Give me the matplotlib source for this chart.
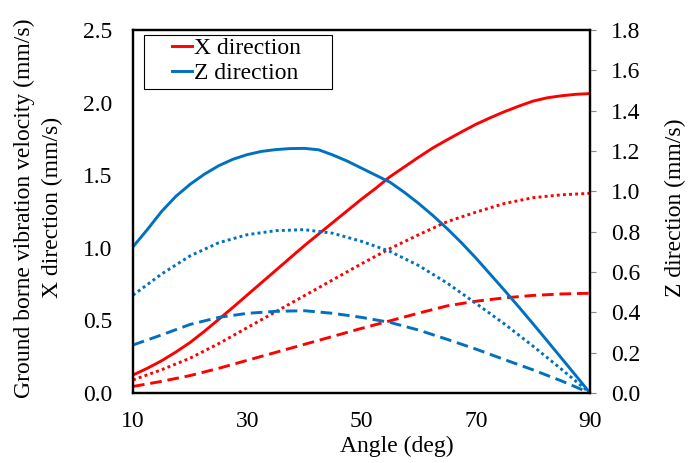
import numpy as np
import matplotlib
matplotlib.use("Agg")
import matplotlib.pyplot as plt
from matplotlib.patches import Rectangle

plt.rcParams["font.family"] = ["Liberation Serif", "DejaVu Serif"]
plt.rcParams["font.size"] = 17

# angle (deg): solid lines read every 2.5 deg, dotted/dashed every 5 deg
angle_fine = [10, 12.5, 15, 17.5, 20, 22.5, 25, 27.5, 30, 32.5, 35, 37.5, 40, 42.5, 45, 47.5,
              50, 52.5, 55, 57.5, 60, 62.5, 65, 67.5, 70, 72.5, 75, 77.5, 80, 82.5, 85, 87.5, 90]
angle = [10, 15, 20, 25, 30, 35, 40, 45, 50, 55, 60, 65, 70, 75, 80, 85, 90]

# X direction (left axis, mm/s)
x_solid = [0.124, 0.17, 0.222, 0.282, 0.348, 0.425, 0.507, 0.59, 0.675, 0.76, 0.845, 0.93, 1.015, 1.095,
           1.175, 1.255, 1.335, 1.41, 1.49, 1.557, 1.624, 1.688, 1.744, 1.798, 1.85, 1.895, 1.937,
           1.975, 2.01, 2.033, 2.047, 2.057, 2.062]
x_dotted = [0.09, 0.16, 0.24, 0.34, 0.45, 0.56, 0.67, 0.78, 0.89, 0.995, 1.09, 1.18, 1.245, 1.305, 1.345, 1.365, 1.375]
x_dashed = [0.045, 0.08, 0.12, 0.17, 0.225, 0.28, 0.335, 0.39, 0.445, 0.497, 0.55, 0.60, 0.632, 0.655, 0.672, 0.682, 0.687]

# Z direction (right axis, mm/s)
z_solid = [0.725, 0.81, 0.90, 0.975, 1.035, 1.085, 1.127, 1.159, 1.182, 1.198, 1.207, 1.212, 1.213, 1.206,
           1.18, 1.15, 1.115, 1.08, 1.045, 0.995, 0.94, 0.88, 0.815, 0.745, 0.67, 0.59, 0.51,
           0.428, 0.344, 0.259, 0.173, 0.087, 0.0]
z_dotted = [0.485, 0.59, 0.68, 0.745, 0.785, 0.805, 0.81, 0.792, 0.752, 0.702, 0.632, 0.545, 0.445, 0.343, 0.233, 0.118, 0.0]
z_dashed = [0.238, 0.288, 0.34, 0.375, 0.395, 0.405, 0.408, 0.395, 0.375, 0.35, 0.312, 0.266, 0.218, 0.166, 0.115, 0.06, 0.0]

RED = "#FF0000"
BLUE = "#0070C0"
LW = 2.1
DOT = (0, (1, 1.1))
DASH = (0, (4, 2))

fig = plt.figure(figsize=(6.91, 4.63), dpi=100)
ax = fig.add_axes([133/691, 1-393/463, 457/691, 363/463])
ax2 = ax.twinx()

ax.plot(angle_fine, x_solid, color=RED, lw=LW, label="X direction")
ax.plot(angle, x_dotted, color=RED, lw=LW, ls=DOT)
ax.plot(angle, x_dashed, color=RED, lw=LW, ls=DASH)
ax2.plot(angle_fine, z_solid, color=BLUE, lw=LW, label="Z direction")
ax2.plot(angle, z_dotted, color=BLUE, lw=LW, ls=DOT)
ax2.plot(angle, z_dashed, color=BLUE, lw=LW, ls=DASH)

ax.set_xlim(10, 90)
ax.set_xticks([10, 30, 50, 70, 90])
ax.set_ylim(0, 2.5)
ax.set_yticks(np.arange(0, 2.51, 0.5))
ax.yaxis.set_major_formatter(matplotlib.ticker.FormatStrFormatter("%.1f"))
ax2.set_ylim(0, 1.8)
ax2.set_yticks(np.arange(0, 1.81, 0.2))
ax2.yaxis.set_major_formatter(matplotlib.ticker.FormatStrFormatter("%.1f"))

ax.tick_params(axis="x", length=0, pad=13)
ax.tick_params(axis="y", length=0, pad=15)
ax2.tick_params(axis="y", length=4.3, width=0.8, color="#888888", pad=11)

for a in (ax, ax2):
    for s in a.spines.values():
        s.set_linewidth(1.6)
        s.set_color("black")

ax.set_ylabel("Ground borne vibration velocity (mm/s)\nX direction (mm/s)", linespacing=1.4)
ax.yaxis.set_label_coords(-0.153, 0.51)
ax2.set_ylabel("Z direction (mm/s)", rotation=90)
ax2.yaxis.set_label_coords(1.164, 0.51)
ax.set_xlabel("Angle (deg)")
ax.xaxis.set_label_coords(0.578, -0.118)
ax.xaxis.label.set_va("top")

h1, l1 = ax.get_legend_handles_labels()
h2, l2 = ax2.get_legend_handles_labels()
leg = ax2.legend(h1 + h2, l1 + l2, loc="upper left", bbox_to_anchor=(0.085, 0.98),
                 frameon=False, borderpad=0, borderaxespad=0, handlelength=0.85,
                 handletextpad=0.1, labelspacing=0.15, fontsize=17)
ax2.add_patch(Rectangle((0.024, 0.8375), 0.4115, 0.1485, transform=ax2.transAxes,
                        fill=False, edgecolor="black", lw=0.8, zorder=5))

fig.savefig("out.png", dpi=100)
